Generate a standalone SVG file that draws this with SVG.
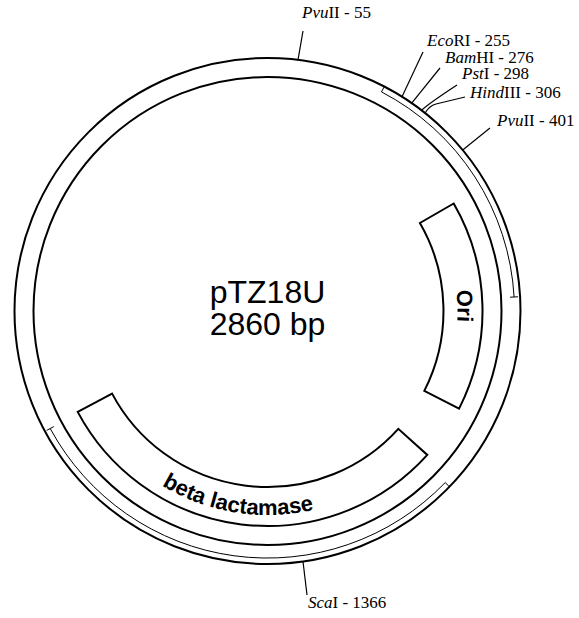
<svg xmlns="http://www.w3.org/2000/svg" width="579" height="618" viewBox="0 0 579 618">
<style>
.ring{fill:none;stroke:#000;stroke-width:2}
.box{fill:#fff;stroke:#000;stroke-width:2;stroke-linejoin:miter}
.band{fill:none;stroke:#000;stroke-width:1}
.tick{fill:none;stroke:#000;stroke-width:1.2}
.site{font-family:"Liberation Serif","Times New Roman",serif;font-size:17px;fill:#000}
.feat{font-family:"Liberation Sans",Arial,sans-serif;font-size:22px;font-weight:bold;fill:#000}
.title{font-family:"Liberation Sans",Arial,sans-serif;font-size:32px;fill:#000;text-anchor:middle}
</style>
<defs>
<path id="oriPath" d="M 432.0 216 A 190 190 0 0 1 436.8 397.3"/>
<path id="blaPath" d="M 123.3 455.2 A 204 204 0 0 0 360.1 492.8"/>
</defs>
<rect width="579" height="618" fill="#fff"/>
<g id="plasmid">
<circle class="ring" cx="267.5" cy="311" r="253"/>
<circle class="ring" cx="267.5" cy="311" r="234"/>
</g>
<g id="band-upper">
<path class="band" d="M 384.3 86.6 L 381.5 91.9 A 247 247 0 0 1 514.1 297.0"/>
<path class="band" d="M 510.1 297.2 L 518.1 296.8"/>
</g>
<g id="band-lower">
<path class="band" d="M 449.5 486.8 L 445.2 482.6 A 247 247 0 0 1 50.2 428.5"/>
<path class="band" d="M 53.8 426.6 L 46.7 430.4"/>
</g>
<g id="ori">
<path class="box" d="M 453.7 203.5 A 215 215 0 0 1 459.1 408.6 L 424.3 390.9 A 176 176 0 0 0 419.9 223 Z"/>
<text class="feat"><textPath href="#oriPath" startOffset="50%" text-anchor="middle">Ori</textPath></text>
</g>
<g id="bla">
<path class="box" d="M 427.3 454.9 A 215 215 0 0 1 77.7 411.9 L 112.1 393.6 A 176 176 0 0 0 398.3 428.8 Z"/>
<text class="feat"><textPath href="#blaPath" startOffset="50%" text-anchor="middle">beta lactamase</textPath></text>
</g>
<g id="title">
<text class="title" x="267.5" y="303">pTZ18U</text>
<text class="title" x="267.5" y="335">2860 bp</text>
</g>
<g id="connectors">
<path class="tick" d="M 298 59.8 L 303 31"/>
<path class="tick" d="M 402 96.7 L 423 52"/>
<path class="tick" d="M 411.7 103.1 L 440 68"/>
<path class="tick" d="M 421.6 110.3 Q 428 104 457 85"/>
<path class="tick" d="M 425.1 113 Q 429 106 436 104 L 465 97"/>
<path class="tick" d="M 462.7 150 L 490 128"/>
<path class="tick" d="M 303 561.5 L 307 595"/>
</g>
<g id="site-pvuII-55"><text class="site" x="302" y="18"><tspan font-style="italic">Pvu</tspan>II - 55</text></g>
<g id="site-ecoRI"><text class="site" x="427" y="46"><tspan font-style="italic">Eco</tspan>RI - 255</text></g>
<g id="site-bamHI"><text class="site" x="445" y="63"><tspan font-style="italic">Bam</tspan>HI - 276</text></g>
<g id="site-pstI"><text class="site" x="462" y="79"><tspan font-style="italic">Pst</tspan>I - 298</text></g>
<g id="site-hindIII"><text class="site" x="470" y="98"><tspan font-style="italic">Hind</tspan>III - 306</text></g>
<g id="site-pvuII-401"><text class="site" x="497" y="126"><tspan font-style="italic">Pvu</tspan>II - 401</text></g>
<g id="site-scaI"><text class="site" x="308" y="608"><tspan font-style="italic">Sca</tspan>I - 1366</text></g>
</svg>
